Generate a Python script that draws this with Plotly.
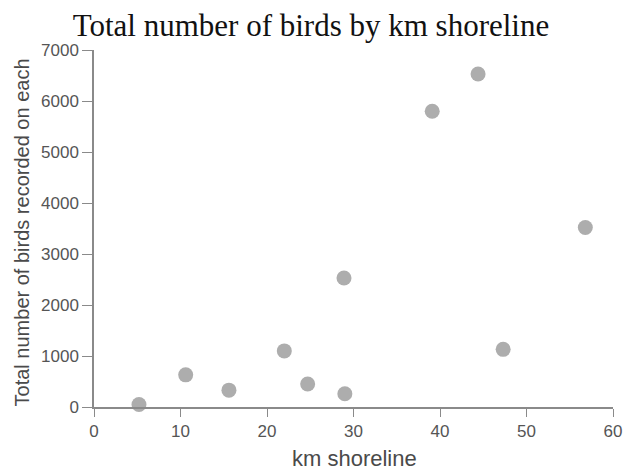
import plotly.graph_objs as go

# km of shoreline surveyed vs total birds counted
km_shoreline = [5.2, 10.6, 15.6, 22.0, 24.7, 28.9, 29.0, 39.1, 44.4, 47.3, 56.8]
total_birds = [50, 630, 330, 1100, 450, 2530, 260, 5800, 6530, 1130, 3520]

x_ticks = [0, 10, 20, 30, 40, 50, 60]
y_ticks = [0, 1000, 2000, 3000, 4000, 5000, 6000, 7000]

axis_color = '#8a8a8a'
label_color = '#555555'
title_color = '#4a4a4a'

points = go.Scatter(
    x=km_shoreline,
    y=total_birds,
    mode='markers',
    marker=dict(size=15, color='#adadad', line=dict(width=0)),
    cliponaxis=False,
    showlegend=False,
)

fig = go.Figure(data=[points])
fig.update_layout(
    title=dict(
        text='Total number of birds by km shoreline',
        x=0.484, xanchor='center', y=0.964, yanchor='middle',
        font=dict(family='Liberation Serif', size=31, color='#111111'),
    ),
    # page body adds an 8px offset, so the figure is a bit smaller than the window
    width=626,
    height=466,
    margin=dict(l=86, r=19, t=42, b=67),
    paper_bgcolor='white',
    plot_bgcolor='white',
    font=dict(family='Liberation Sans', color=label_color),
    xaxis=dict(
        range=[0, 60],
        tickvals=x_ticks,
        showgrid=False, zeroline=False,
        showline=True, linecolor=axis_color, linewidth=1.5,
        ticks='outside', ticklen=8, tickcolor=axis_color,
        tickfont=dict(size=17, color=label_color),
    ),
    yaxis=dict(
        range=[0, 7000],
        tickvals=y_ticks,
        showgrid=False, zeroline=False,
        showline=True, linecolor=axis_color, linewidth=1.5,
        ticks='outside', ticklen=10, tickcolor=axis_color,
        tickfont=dict(size=17, color=label_color),
    ),
    annotations=[
        dict(text='km shoreline', xref='paper', yref='paper', x=0.501, y=-0.143,
             xanchor='center', yanchor='middle', showarrow=False,
             font=dict(size=22, color=title_color)),
        dict(text='Total number of birds recorded on each', xref='paper', yref='paper',
             x=-0.138, y=0.49, xanchor='center', yanchor='middle', textangle=-90,
             showarrow=False, font=dict(size=20, color=title_color)),
    ],
)

fig.write_html("out.html")
